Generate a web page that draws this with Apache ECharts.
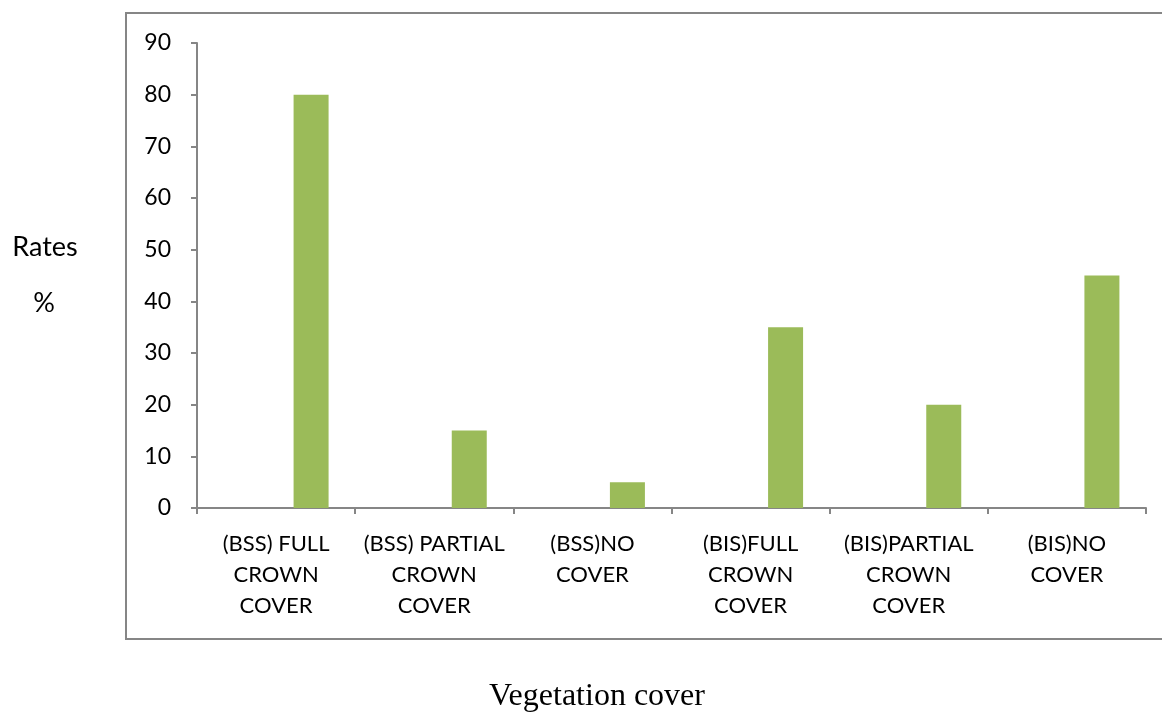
<!DOCTYPE html>
<html>
<head>
<meta charset="utf-8">
<script src="https://cdn.jsdelivr.net/npm/echarts@6/dist/echarts.min.js"></script>
<style>
html,body{margin:0;padding:0;background:#fff;}
#chart{width:1162px;height:713px;}
</style>
</head>
<body>
<div id="chart"></div>
<script>
const categories = [
  "(BSS) FULL\nCROWN\nCOVER",
  "(BSS) PARTIAL\nCROWN\nCOVER",
  "(BSS)NO\nCOVER",
  "(BIS)FULL\nCROWN\nCOVER",
  "(BIS)PARTIAL\nCROWN\nCOVER",
  "(BIS)NO\nCOVER"
];
const emptySeriesA = [null, null, null, null, null, null];
const emptySeriesB = [null, null, null, null, null, null];
const rates = [80, 15, 5, 35, 20, 45];
const yTicks = { min: 0, max: 90, interval: 10 };

const chart = echarts.init(document.getElementById('chart'), null, {renderer: 'canvas'});
const font = 'Lato, "Open Sans", sans-serif';
const barW = 35;
chart.setOption({
  animation: false,
  backgroundColor: '#ffffff',
  grid: { left: 197, top: 43, right: 16, bottom: 205, containLabel: false },
  xAxis: {
    type: 'category',
    data: categories,
    axisLine: { lineStyle: { color: '#868686', width: 2 } },
    axisTick: { show: true, alignWithLabel: false, length: 6, lineStyle: { color: '#868686', width: 2 } },
    axisLabel: { color: '#000', fontFamily: font, fontSize: 22, lineHeight: 31, margin: 20, interval: 0 },
    splitLine: { show: false }
  },
  yAxis: {
    type: 'value',
    min: yTicks.min, max: yTicks.max, interval: yTicks.interval,
    axisLine: { show: true, lineStyle: { color: '#868686', width: 2 } },
    axisTick: { show: true, length: 6, lineStyle: { color: '#868686', width: 2 } },
    axisLabel: { color: '#000', fontFamily: font, fontSize: 23, margin: 26 },
    splitLine: { show: false }
  },
  series: [
    { type: 'bar', data: emptySeriesA, barWidth: barW, barGap: '0%', barCategoryGap: '33.3%', itemStyle: { color: '#4F81BD' } },
    { type: 'bar', data: emptySeriesB, barWidth: barW, barGap: '0%', barCategoryGap: '33.3%', itemStyle: { color: '#C0504D' } },
    { type: 'bar', data: rates, barWidth: barW, barGap: '0%', barCategoryGap: '33.3%', itemStyle: { color: '#9BBB59' } }
  ],
  graphic: [
    { type: 'rect', silent: true, z: -1, shape: { x: 126, y: 13, width: 1100, height: 626 }, style: { fill: 'none', stroke: '#868686', lineWidth: 2 } },
    { type: 'text', style: { x: 45, y: 247, text: 'Rates', align: 'center', verticalAlign: 'middle', fontFamily: font, fontSize: 27, fill: '#000' } },
    { type: 'text', style: { x: 44, y: 303, text: '%', align: 'center', verticalAlign: 'middle', fontFamily: font, fontSize: 27, fill: '#000' } },
    { type: 'text', style: { x: 597, y: 697, text: 'Vegetation cover', align: 'center', verticalAlign: 'middle', fontFamily: '"Liberation Serif", "DejaVu Serif", serif', fontSize: 32, fill: '#000' } }
  ]
});
</script>
</body>
</html>
